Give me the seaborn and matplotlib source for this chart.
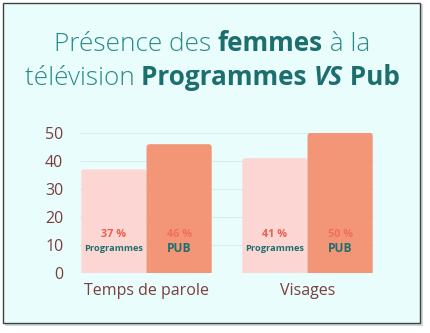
import matplotlib
matplotlib.use("Agg")
import matplotlib.pyplot as plt
import seaborn as sns
import pandas as pd
from matplotlib.patches import Rectangle, FancyBboxPatch

categories = ["Temps de parole", "Visages"]
series = ["Programmes", "PUB"]
programmes = [37, 41]
pub = [46, 50]
yticks = [0, 10, 20, 30, 40, 50]

df = pd.DataFrame({
    "cat": categories * 2,
    "serie": [series[0]] * 2 + [series[1]] * 2,
    "val": programmes + pub,
})

sns.set_theme(style="white")
plt.rcParams['font.family'] = ['Open Sans', 'DejaVu Sans']

BG = "#eafdfd"
LIGHT = "#fcd6d2"
DARK = "#f29677"
TEAL = "#2b8a88"
TEAL_D = "#1d6f6f"
BROWN = "#7a3e3e"

fig = plt.figure(figsize=(4.3, 3.33), dpi=100)
fig.patch.set_facecolor("white")
W, H = 430, 333
# card shadow and card
fig.patches.append(Rectangle((5 / W, 1 - 326 / H), 418 / W, 322 / H, transform=fig.transFigure,
                             facecolor="#9a9a9a", alpha=0.4, edgecolor="none", zorder=0))
fig.patches.append(Rectangle((3 / W, 1 - 323 / H), 417 / W, 320 / H, transform=fig.transFigure,
                             facecolor=BG, edgecolor="#3a4444", linewidth=1.0, zorder=1))

ax = fig.add_axes([80 / W, (H - 273) / H, 294 / W, (273 - 127.4) / H])
ax.set_facecolor("none")
ax.set_zorder(2)

sns.barplot(data=df, x="cat", y="val", hue="serie", hue_order=series,
            palette=[LIGHT, DARK], width=0.81, gap=0, dodge=True, ax=ax,
            legend=False, saturation=1)

ax.set_ylim(0, 52)
ax.set_xlim(-0.413, 1.413)
ax.set_yticks(yticks)
ax.yaxis.grid(True, color="#d5eeee", linewidth=0.8)
ax.set_axisbelow(True)
for s in ax.spines.values():
    s.set_visible(False)
ax.set_xlabel("")
ax.set_ylabel("")
ax.tick_params(axis="y", length=0, pad=12, labelsize=11.5, labelcolor=BROWN)
ax.tick_params(axis="x", length=0, pad=7, labelsize=11.5, labelcolor=BROWN)

# rounded top corners; aspect from axis scales (px per x unit / px per y unit)
fig.canvas.draw()
bb = ax.get_window_extent()
xr = ax.get_xlim()[1] - ax.get_xlim()[0]
yr = ax.get_ylim()[1] - ax.get_ylim()[0]
aspect = (bb.width / xr) / (bb.height / yr)
bars = list(ax.patches)
for p in bars:
    x0, y0 = p.get_x(), p.get_y()
    w, h = p.get_width(), p.get_height()
    fc = p.get_facecolor()
    p.set_visible(False)
    rp = FancyBboxPatch((x0, y0 - 3), w, h + 3,
                        boxstyle="round,pad=0,rounding_size=0.02",
                        mutation_aspect=aspect,
                        facecolor=fc, edgecolor="none", zorder=3, clip_on=True)
    ax.add_patch(rp)

# in-bar labels
pct_colors = ["#ee5f52", "#f26e5c"]
for i, (vals, name) in enumerate(zip([programmes, pub], series)):
    for j, v in enumerate(vals):
        xc = j + (i - 0.5) * 0.405
        ax.text(xc, 13.8, f"{v} %", ha="center", va="center", fontsize=7.8,
                fontweight="bold", color=pct_colors[i], zorder=5)
        ax.text(xc, 8.8, name, ha="center", va="center",
                fontsize=6.7 if i == 0 else 8.6,
                fontweight="bold", color=TEAL_D, zorder=5)

# title with mixed weights
renderer = fig.canvas.get_renderer()

def draw_line(segments, y, size=18.8):
    texts = []
    for s, wt, st, col in segments:
        t = fig.text(0, y, s, fontsize=size, fontweight=wt, fontstyle=st, color=col,
                     va="baseline", ha="left", zorder=5)
        texts.append(t)
    widths = [t.get_window_extent(renderer).width for t in texts]
    total = sum(widths)
    x = (212 - total / 2)
    for t, w in zip(texts, widths):
        t.set_x(x / W)
        x += w

draw_line([("Présence des ", "light", "normal", TEAL),
           ("femmes", "bold", "normal", TEAL_D),
           (" à la", "light", "normal", TEAL)], 1 - 51 / H)
draw_line([("télévision ", "light", "normal", TEAL),
           ("Programmes ", "bold", "normal", TEAL_D),
           ("VS", "bold", "italic", TEAL_D),
           (" Pub", "bold", "normal", TEAL_D)], 1 - 85 / H)

fig.savefig("out.png", dpi=100, facecolor="white")
